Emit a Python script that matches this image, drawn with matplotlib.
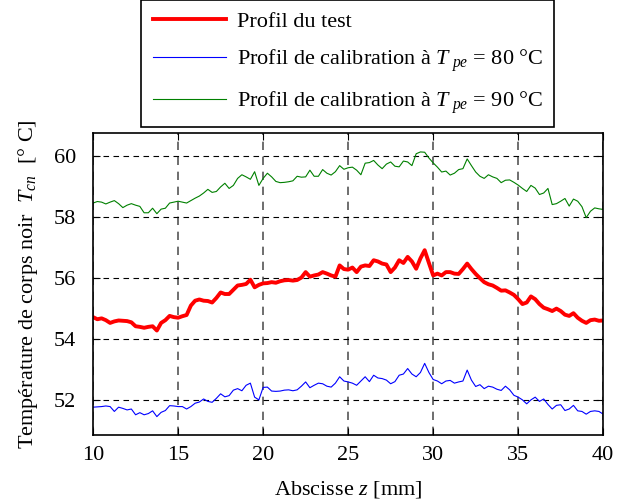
import matplotlib
matplotlib.use('Agg')
import matplotlib.pyplot as plt
import numpy as np

plt.rcParams['font.family'] = 'Liberation Serif'
plt.rcParams['mathtext.fontset'] = 'custom'
plt.rcParams['mathtext.rm'] = 'Liberation Serif'
plt.rcParams['mathtext.it'] = 'Liberation Serif:italic'

# abscissa in mm (0.25 mm step)
z = np.linspace(10, 40, 121)

test = [54.72, 54.65, 54.68, 54.62, 54.53, 54.58, 54.61, 54.60, 54.59, 54.55,
        54.42, 54.40, 54.37, 54.40, 54.42, 54.28, 54.53, 54.62, 54.76, 54.72,
        54.70, 54.75, 54.79, 55.10, 55.26, 55.30, 55.26, 55.25, 55.20, 55.35,
        55.53, 55.48, 55.48, 55.62, 55.76, 55.78, 55.81, 55.95, 55.70, 55.78,
        55.83, 55.84, 55.87, 55.85, 55.90, 55.93, 55.94, 55.92, 55.94, 56.02,
        56.20, 56.05, 56.09, 56.12, 56.20, 56.15, 56.09, 56.05, 56.42, 56.30,
        56.28, 56.35, 56.20, 56.38, 56.42, 56.40, 56.59, 56.55, 56.48, 56.45,
        56.20, 56.35, 56.59, 56.50, 56.70, 56.55, 56.31, 56.65, 56.92, 56.50,
        56.09, 56.15, 56.09, 56.20, 56.20, 56.15, 56.14, 56.30, 56.48, 56.30,
        56.14, 56.00, 55.87, 55.80, 55.76, 55.68, 55.59, 55.60, 55.53, 55.45,
        55.31, 55.15, 55.20, 55.40, 55.31, 55.15, 55.03, 54.98, 54.92, 55.00,
        54.92, 54.80, 54.76, 54.85, 54.70, 54.60, 54.53, 54.62, 54.64, 54.60,
        54.61]

calib80 = [51.76, 51.77, 51.78, 51.80, 51.78, 51.62, 51.76, 51.72, 51.67, 51.70,
           51.51, 51.58, 51.51, 51.55, 51.64, 51.45, 51.59, 51.65, 51.81, 51.80,
           51.78, 51.78, 51.70, 51.78, 51.89, 51.93, 52.03, 51.95, 51.92, 52.05,
           52.20, 52.10, 52.14, 52.32, 52.37, 52.30, 52.48, 52.55, 52.09, 52.00,
           52.41, 52.42, 52.29, 52.28, 52.29, 52.32, 52.33, 52.30, 52.33, 52.45,
           52.59, 52.40, 52.48, 52.55, 52.53, 52.45, 52.42, 52.55, 52.76, 52.62,
           52.59, 52.55, 52.48, 52.62, 52.76, 52.60, 52.81, 52.72, 52.70, 52.65,
           52.53, 52.60, 52.81, 52.85, 53.03, 52.85, 52.76, 52.90, 53.20, 52.90,
           52.67, 52.62, 52.53, 52.62, 52.64, 52.55, 52.59, 52.62, 52.98, 52.65,
           52.44, 52.50, 52.37, 52.45, 52.42, 52.35, 52.31, 52.45, 52.33, 52.15,
           52.09, 52.00, 51.87, 52.00, 52.09, 51.95, 52.03, 51.85, 51.70, 51.82,
           51.84, 51.65, 51.70, 51.82, 51.64, 51.62, 51.53, 51.62, 51.64, 51.62,
           51.53]

calib90 = [58.47, 58.52, 58.50, 58.44, 58.50, 58.55, 58.45, 58.32, 58.40, 58.45,
           58.40, 58.36, 58.15, 58.15, 58.30, 58.12, 58.27, 58.30, 58.47, 58.50,
           58.53, 58.50, 58.47, 58.55, 58.63, 58.70, 58.80, 58.92, 58.82, 58.85,
           59.00, 59.12, 58.95, 59.05, 59.28, 59.40, 59.33, 59.25, 59.50, 59.05,
           59.28, 59.45, 59.33, 59.18, 59.14, 59.15, 59.17, 59.20, 59.35, 59.32,
           59.33, 59.55, 59.35, 59.35, 59.57, 59.45, 59.39, 59.50, 59.70, 59.58,
           59.63, 59.65, 59.55, 59.40, 59.78, 59.80, 59.87, 59.72, 59.60, 59.75,
           59.82, 59.68, 59.66, 59.85, 59.82, 59.70, 60.09, 60.15, 60.14, 59.95,
           59.79, 59.65, 59.49, 59.52, 59.39, 59.45, 59.57, 59.60, 59.92, 59.70,
           59.49, 59.35, 59.28, 59.40, 59.33, 59.28, 59.14, 59.22, 59.23, 59.15,
           59.06, 58.95, 58.85, 59.05, 58.96, 58.75, 58.80, 58.95, 58.42, 58.45,
           58.53, 58.62, 58.37, 58.60, 58.53, 58.35, 57.99, 58.20, 58.31, 58.28,
           58.26]

fig = plt.figure(figsize=(6.29, 5.01), dpi=100)
ax = fig.add_axes([0.148, 0.132, 0.811, 0.603])

l1, = ax.plot(z, test, color='#ff0000', lw=2.8, label='Profil du test')
l2, = ax.plot(z, calib80, color='#0000ff', lw=0.8,
              label=r'Profil de calibration à $T_{\ pe}$ = 80 °C')
l3, = ax.plot(z, calib90, color='#008000', lw=0.8,
              label=r'Profil de calibration à $T_{\ pe}$ = 90 °C')

ax.set_xlim(10, 40)
ax.set_ylim(50.85, 60.78)
ax.set_xticks(range(10, 41, 5))
ax.set_yticks(range(52, 61, 2))
ax.grid(axis='x', color='#555555', ls=(0, (5, 4)), lw=1.2)
ax.grid(axis='y', color='black', ls=(0, (5, 4)), lw=0.8)
ax.tick_params(direction='in', top=True, right=True, labelsize=16, length=5)
ax.tick_params(axis='y', pad=12)
ax.tick_params(axis='x', pad=8)
for s in ax.spines.values():
    s.set_linewidth(1.2)

ax.set_xlabel(r'Abscisse $z$ [mm]', fontsize=16, labelpad=10)
ax.set_ylabel(r'Température de corps noir  $T_{cn}$  [° C]', fontsize=16, labelpad=10)

leg = fig.legend(handles=[l1, l2, l3], loc='center',
                 bbox_to_anchor=(0.228, 0.745, 0.65, 0.255),
                 fontsize=16, handlelength=3.3, handletextpad=0.5,
                 frameon=True, fancybox=False, edgecolor='black', framealpha=1,
                 borderpad=0.5, labelspacing=0.7)
leg.get_frame().set_linewidth(1.2)

fig.savefig('out.png', dpi=100)
